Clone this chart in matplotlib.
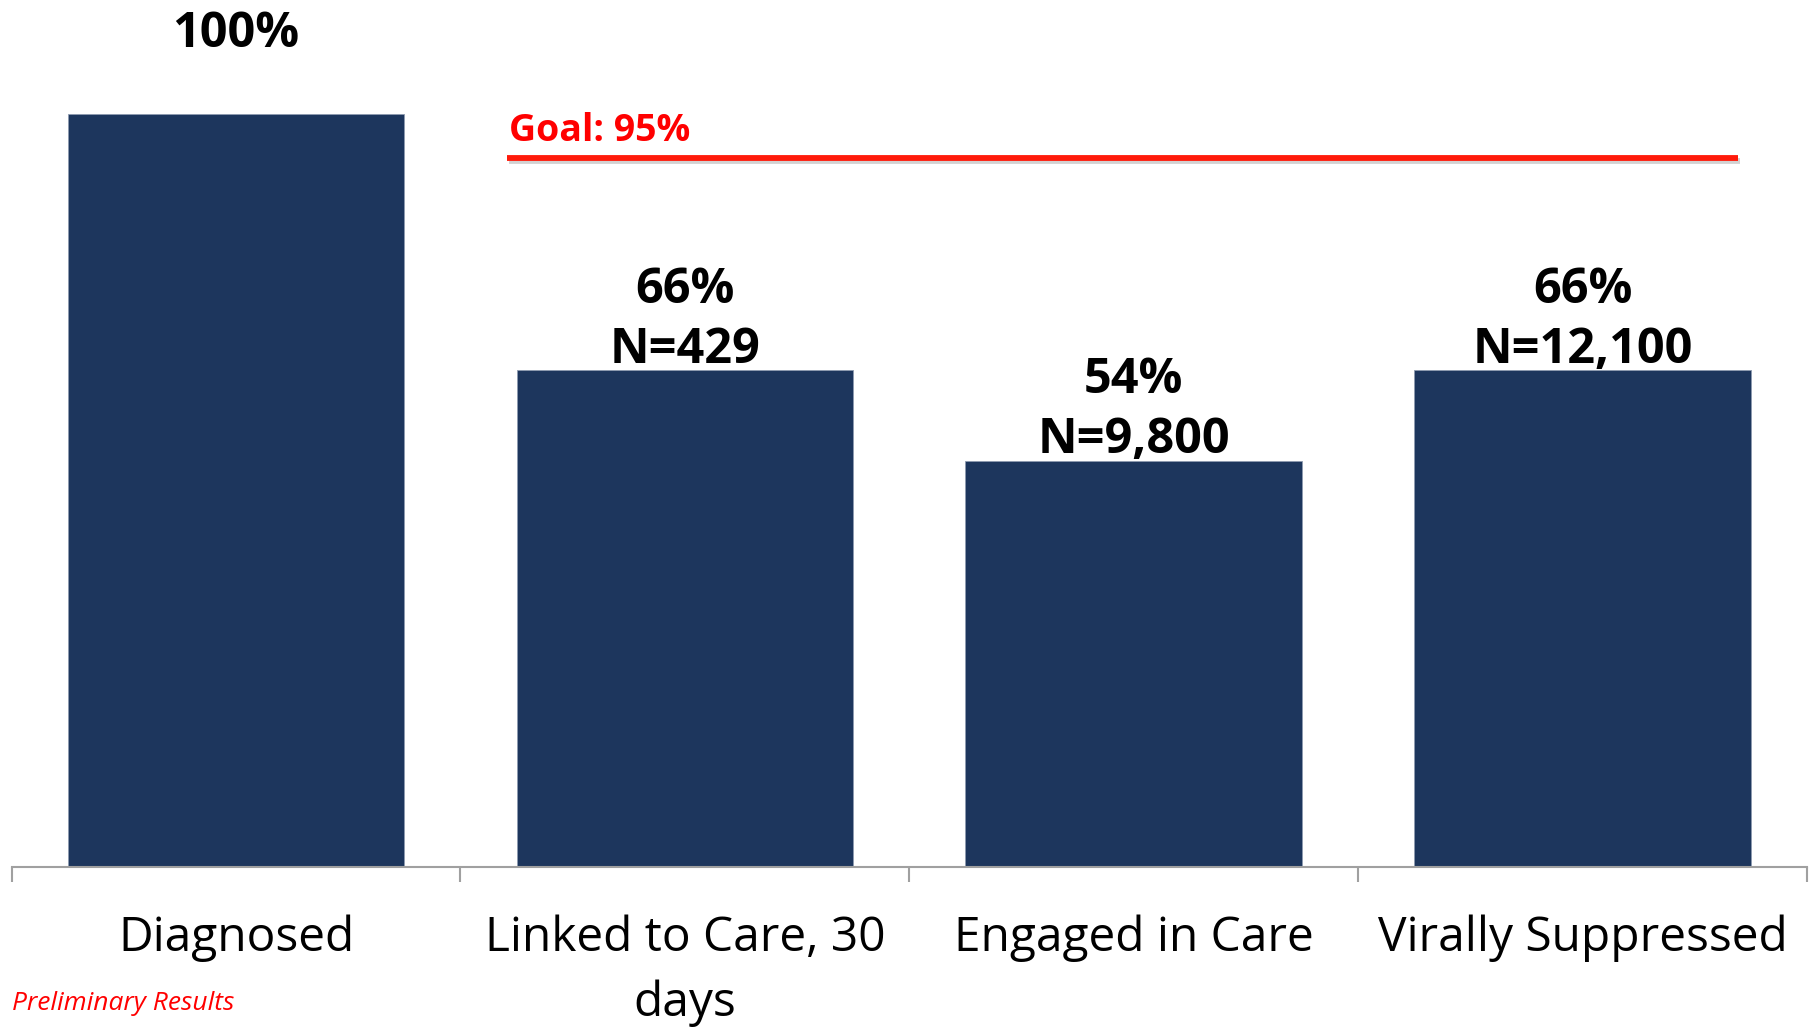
import matplotlib.pyplot as plt
import matplotlib.patheffects as pe

categories = ['Diagnosed', 'Linked to Care, 30\ndays', 'Engaged in Care', 'Virally Suppressed']
percents = [100, 66, 54, 66]
counts = ['', 'N=429', 'N=9,800', 'N=12,100']
goal_level = 94.2   # where the goal line sits in the picture
goal_label = 'Goal: 95%'

plt.rcParams['font.family'] = ['Open Sans', 'DejaVu Sans']

fig = plt.figure(figsize=(18.13, 10.28), dpi=100)
ax = fig.add_axes([11.6 / 1813, 161 / 1028, (1807 - 11.6) / 1813, 867 / 1028])

x = range(len(categories))
bars = ax.bar(x, percents, width=0.75, color='#1d365d', edgecolor='#8d9bb0', linewidth=0.6)

# value labels: percent on top line, N below it
for i, (p, n) in enumerate(zip(percents, counts)):
    ax.text(i, p - 0.65, f'{p}%\n{n if n else " "}', ha='center', va='bottom',
            fontsize=35, fontweight='bold', linespacing=1.3)

# goal line with a soft shadow
ax.plot([0.603, 3.346], [goal_level, goal_level], color='#ff1a0a', linewidth=4.2,
        solid_capstyle='butt',
        path_effects=[pe.SimpleLineShadow(offset=(1.5, -2), shadow_color='gray', alpha=0.35),
                      pe.Normal()])
ax.text(0.608, goal_level + 3.6, goal_label, color='#ff0000', fontsize=27, fontweight='bold',
        ha='left', va='center')

ax.set_xlim(-0.5, 3.5)
ax.set_ylim(0, 115.2)

for s in ['top', 'right', 'left']:
    ax.spines[s].set_visible(False)
ax.spines['bottom'].set_color('#a0a0a0')
ax.spines['bottom'].set_linewidth(1.5)
ax.set_yticks([])

ax.set_xticks(list(x))
ax.set_xticklabels(categories, fontsize=34.5, linespacing=1.5)
ax.tick_params(axis='x', which='major', length=0, pad=34)
ax.set_xticks([-0.5, 0.5, 1.5, 2.5, 3.5], minor=True)
ax.tick_params(axis='x', which='minor', length=11, width=1.5, color='#a0a0a0')

fig.text(11.6 / 1813, 24 / 1028, 'Preliminary Results', color='#ff0000', fontsize=19,
         style='italic', ha='left', va='center')

fig.savefig('out.png', dpi=100)
